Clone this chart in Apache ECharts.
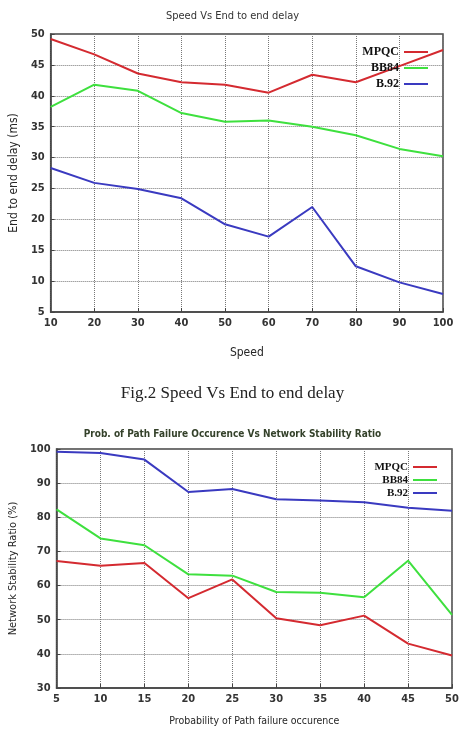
<!DOCTYPE html>
<html>
<head>
<meta charset="utf-8">
<script src="https://cdn.jsdelivr.net/npm/echarts@6/dist/echarts.min.js"></script>
<style>
  html, body { margin: 0; padding: 0; background: #fff; }
  #chart { width: 465px; height: 731px; }
</style>
</head>
<body>
<div id="chart"></div>
<script>
// top chart: speed vs delay
var speed = [10, 20, 30, 40, 50, 60, 70, 80, 90, 100];
var delayMPQC = [49.2, 46.7, 43.6, 42.2, 41.8, 40.5, 43.4, 42.2, 44.8, 47.4];
var delayBB84 = [38.2, 41.8, 40.8, 37.2, 35.8, 36.0, 35.0, 33.6, 31.4, 30.2];
var delayB92 = [28.3, 25.9, 24.9, 23.4, 19.2, 17.2, 22.0, 12.4, 9.8, 7.9];

// bottom chart: path failure probability vs stability
var failProb = [5, 10, 15, 20, 25, 30, 35, 40, 45, 50];
var stabMPQC = [67.2, 65.8, 66.6, 56.3, 61.8, 50.4, 48.4, 51.2, 43.0, 39.5];
var stabBB84 = [82.3, 73.8, 71.8, 63.3, 62.9, 58.1, 57.9, 56.6, 67.3, 51.4];
var stabB92 = [99.2, 98.8, 96.9, 87.4, 88.3, 85.3, 84.9, 84.4, 82.8, 81.9];

var seriesNames = ['MPQC', 'BB84', 'B.92'];
var colors = ['#d42a30', '#3ee03e', '#3a3ac0'];

var sansFont = 'DejaVu Sans Condensed';

function pairs(xs, ys){
    return xs.map(function(x, i){ return [x, ys[i]]; });
}

function makeLine(name, idx, xs, ys){
    var c = colors[seriesNames.indexOf(name)];
    return {
        name: name,
        type: 'line',
        xAxisIndex: idx,
        yAxisIndex: idx,
        showSymbol: false,
        symbol: 'none',
        lineStyle: { width: 2, color: c },
        itemStyle: { color: c },
        data: pairs(xs, ys)
    };
}

function valueAxis(idx, min, max, interval, name, nameGap, nameSize){
    return {
        type: 'value',
        gridIndex: idx,
        min: min,
        max: max,
        interval: interval,
        name: name,
        nameLocation: 'middle',
        nameGap: nameGap,
        nameTextStyle: { fontFamily: sansFont, fontSize: nameSize, color: '#262626' },
        axisLine: { show: true, lineStyle: { color: '#444', width: 1.5 } },
        axisTick: { show: true, inside: true, length: 4, lineStyle: { color: '#444' } },
        axisLabel: { fontFamily: sansFont, fontSize: 11, fontWeight: 'bold', color: '#333', margin: 6 },
        splitLine: { show: true, lineStyle: { type: 'dotted', color: '#777', width: 1 } }
    };
}

function makeLegend(right, top, fontSize, lineH, gap){
    return {
        data: seriesNames,
        orient: 'vertical',
        right: right,
        top: top,
        align: 'right',
        itemWidth: 24,
        itemHeight: 2,
        itemGap: gap,
        icon: 'rect',
        textStyle: { fontFamily: 'Liberation Serif', fontSize: fontSize, lineHeight: lineH, fontWeight: 'bold', color: '#111' }
    };
}

var chart = echarts.init(document.getElementById('chart'));

chart.setOption({
    backgroundColor: '#fff',
    animation: false,
    title: [
        {
            text: 'Speed Vs End to end delay',
            left: 'center',
            top: 6,
            textStyle: { fontFamily: sansFont, fontSize: 11, fontWeight: 'normal', color: '#333' }
        },
        {
            text: 'Prob. of Path Failure Occurence Vs Network Stability Ratio',
            left: 'center',
            top: 424,
            textStyle: { fontFamily: sansFont, fontSize: 10, fontWeight: 'bold', color: '#34412a' }
        }
    ],
    legend: [
        makeLegend(32, 40, 12, 14, 2),
        makeLegend(23, 456, 11, 12, 1)
    ],
    grid: [
        { left: 35, right: 22, top: 34, height: 278, show: true, borderColor: '#444', borderWidth: 1.5 },
        { left: 49, right: 13, top: 449, height: 239, show: true, borderColor: '#444', borderWidth: 1.5 }
    ],
    xAxis: [
        valueAxis(0, 10, 100, 10, 'Speed', 35, 12),
        valueAxis(1, 5, 50, 5, 'Probability of Path failure occurence', 28, 10.5)
    ],
    yAxis: [
        valueAxis(0, 5, 50, 5, 'End to end delay (ms)', 27, 12),
        valueAxis(1, 30, 100, 10, 'Network Stability Ratio (%)', 29, 11)
    ],
    series: [
        makeLine('MPQC', 0, speed, delayMPQC),
        makeLine('BB84', 0, speed, delayBB84),
        makeLine('B.92', 0, speed, delayB92),
        makeLine('MPQC', 1, failProb, stabMPQC),
        makeLine('BB84', 1, failProb, stabBB84),
        makeLine('B.92', 1, failProb, stabB92)
    ],
    graphic: [
        {
            type: 'text',
            left: 'center',
            top: 385,
            style: {
                text: 'Fig.2 Speed Vs End to end delay',
                font: '17px "Liberation Serif"',
                fill: '#222'
            }
        }
    ]
});
</script>
</body>
</html>
